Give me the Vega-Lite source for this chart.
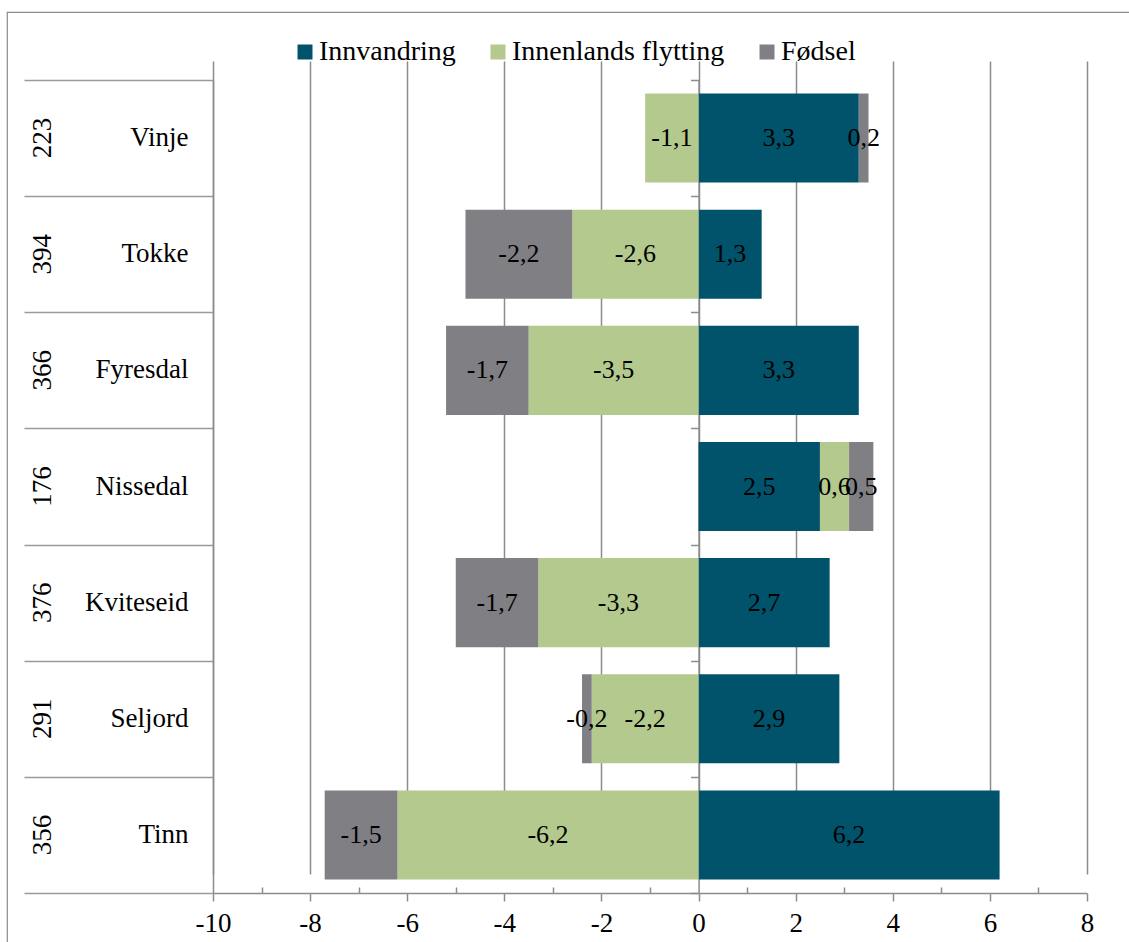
{
  "$schema": "https://vega.github.io/schema/vega-lite/v6.json",
  "width": 1122,
  "height": 930,
  "autosize": {"type": "none"},
  "padding": {"left": 7, "top": 12, "right": 0, "bottom": 0},
  "background": "white",
  "config": {
    "font": "Liberation Serif",
    "view": {"stroke": "#8c8c8c", "strokeWidth": 1.2, "strokeDash": [1122, 2052, 930]},
    "locale": {"number": {"decimal": ",", "thousands": " ", "grouping": [3], "currency": ["", " kr"], "minus": "-"}},
    "axis": {"labelFont": "Liberation Serif", "labelFontSize": 27, "labelColor": "#000000", "title": null},
    "legend": {"labelFont": "Liberation Serif", "labelLimit": 0}
  },
  "data": {
    "values": [
      {"rad": "223 Vinje", "serie": "Innvandring", "verdi": 3.3},
      {"rad": "223 Vinje", "serie": "Innenlands flytting", "verdi": -1.1},
      {"rad": "223 Vinje", "serie": "Fødsel", "verdi": 0.2},
      {"rad": "394 Tokke", "serie": "Innvandring", "verdi": 1.3},
      {"rad": "394 Tokke", "serie": "Innenlands flytting", "verdi": -2.6},
      {"rad": "394 Tokke", "serie": "Fødsel", "verdi": -2.2},
      {"rad": "366 Fyresdal", "serie": "Innvandring", "verdi": 3.3},
      {"rad": "366 Fyresdal", "serie": "Innenlands flytting", "verdi": -3.5},
      {"rad": "366 Fyresdal", "serie": "Fødsel", "verdi": -1.7},
      {"rad": "176 Nissedal", "serie": "Innvandring", "verdi": 2.5},
      {"rad": "176 Nissedal", "serie": "Innenlands flytting", "verdi": 0.6},
      {"rad": "176 Nissedal", "serie": "Fødsel", "verdi": 0.5},
      {"rad": "376 Kviteseid", "serie": "Innvandring", "verdi": 2.7},
      {"rad": "376 Kviteseid", "serie": "Innenlands flytting", "verdi": -3.3},
      {"rad": "376 Kviteseid", "serie": "Fødsel", "verdi": -1.7},
      {"rad": "291 Seljord", "serie": "Innvandring", "verdi": 2.9},
      {"rad": "291 Seljord", "serie": "Innenlands flytting", "verdi": -2.2},
      {"rad": "291 Seljord", "serie": "Fødsel", "verdi": -0.2},
      {"rad": "356 Tinn", "serie": "Innvandring", "verdi": 6.2},
      {"rad": "356 Tinn", "serie": "Innenlands flytting", "verdi": -6.2},
      {"rad": "356 Tinn", "serie": "Fødsel", "verdi": -1.5}
    ]
  },
  "resolve": {"axis": {"x": "independent", "y": "independent"}},
  "layer": [
    {
      "mark": {"type": "bar", "height": {"band": 0.767}},
      "encoding": {
        "y": {
          "field": "rad", "type": "nominal",
          "sort": ["223 Vinje", "394 Tokke", "366 Fyresdal", "176 Nissedal", "376 Kviteseid", "291 Seljord", "356 Tinn"],
          "scale": {"type": "band", "range": [68, 881], "paddingInner": 0, "paddingOuter": 0},
          "axis": {"orient": "left", "offset": -206, "labels": false, "ticks": true, "tickBand": "extent", "tickSize": 189, "tickColor": "#9a9a9a", "tickWidth": 1.5, "domain": true, "domainColor": "#8c8c8c", "domainWidth": 1.5, "grid": false, "title": null}
        },
        "x": {
          "field": "verdi", "type": "quantitative", "stack": "zero",
          "scale": {"domain": [-10, 8], "range": [206, 1080], "nice": false, "zero": false},
          "axis": {"orient": "bottom", "offset": -49, "values": [-10, -8, -6, -4, -2, 0, 2, 4, 6, 8], "format": "d", "labelFlush": false, "grid": true, "gridColor": "#8c8c8c", "gridWidth": 1.5, "domainColor": "#8c8c8c", "domainWidth": 1.5, "tickColor": "#8c8c8c", "tickWidth": 1.5, "tickSize": 8, "labelPadding": 9, "title": null}
        },
        "color": {
          "field": "serie", "type": "nominal",
          "scale": {"domain": ["Innvandring", "Innenlands flytting", "Fødsel"], "range": ["#01536b", "#b3c98d", "#807f84"]},
          "legend": {"orient": "none", "legendX": 284, "legendY": 26, "direction": "horizontal", "title": null, "symbolType": "square", "symbolSize": 225, "symbolStrokeWidth": 0, "labelFontSize": 28, "labelFont": "Liberation Serif", "labelLimit": 0, "labelOffset": 0, "columnPadding": 28, "padding": 0, "labelColor": "#000000"}
        },
        "order": {"field": "serie", "sort": "descending"}
      }
    },
    {
      "mark": {"type": "text", "fontSize": 26, "color": "#000000", "font": "Liberation Serif"},
      "encoding": {
        "y": {
          "field": "rad", "type": "nominal",
          "sort": ["223 Vinje", "394 Tokke", "366 Fyresdal", "176 Nissedal", "376 Kviteseid", "291 Seljord", "356 Tinn"],
          "axis": {"orient": "left", "offset": -206, "ticks": false, "domain": false, "grid": false, "labelExpr": "split(datum.value, ' ')[1]", "labelAlign": "right", "labelBaseline": "middle", "labelPadding": 25, "title": null}
        },
        "x": {
          "field": "verdi", "type": "quantitative", "stack": "zero", "bandPosition": 0.5,
          "axis": {"orient": "bottom", "offset": -49, "values": [-9, -7, -5, -3, -1, 1, 3, 5, 7], "labels": false, "domain": false, "grid": false, "tickSize": -6, "tickColor": "#8c8c8c", "tickWidth": 1.5, "title": null}
        },
        "text": {"field": "verdi", "type": "quantitative", "format": ".1f"},
        "order": {"field": "serie", "sort": "descending"}
      }
    },
    {
      "mark": {"type": "text", "text": ""},
      "encoding": {
        "y": {
          "field": "rad", "type": "nominal",
          "sort": ["223 Vinje", "394 Tokke", "366 Fyresdal", "176 Nissedal", "376 Kviteseid", "291 Seljord", "356 Tinn"],
          "axis": {"orient": "left", "offset": -206, "ticks": false, "domain": false, "grid": false, "labelExpr": "split(datum.value, ' ')[0]", "labelAngle": 270, "labelAlign": "center", "labelBaseline": "middle", "labelPadding": 171, "title": null}
        }
      }
    },
    {
      "mark": {"type": "text", "text": ""},
      "encoding": {
        "y": {
          "field": "rad", "type": "nominal",
          "sort": ["223 Vinje", "394 Tokke", "366 Fyresdal", "176 Nissedal", "376 Kviteseid", "291 Seljord", "356 Tinn"],
          "axis": {"orient": "left", "offset": -691.6, "labels": false, "ticks": true, "tickBand": "extent", "tickSize": 8, "tickColor": "#8c8c8c", "tickWidth": 1.5, "domain": true, "domainColor": "#8c8c8c", "domainWidth": 1.5, "grid": false, "title": null}
        }
      }
    }
  ]
}
